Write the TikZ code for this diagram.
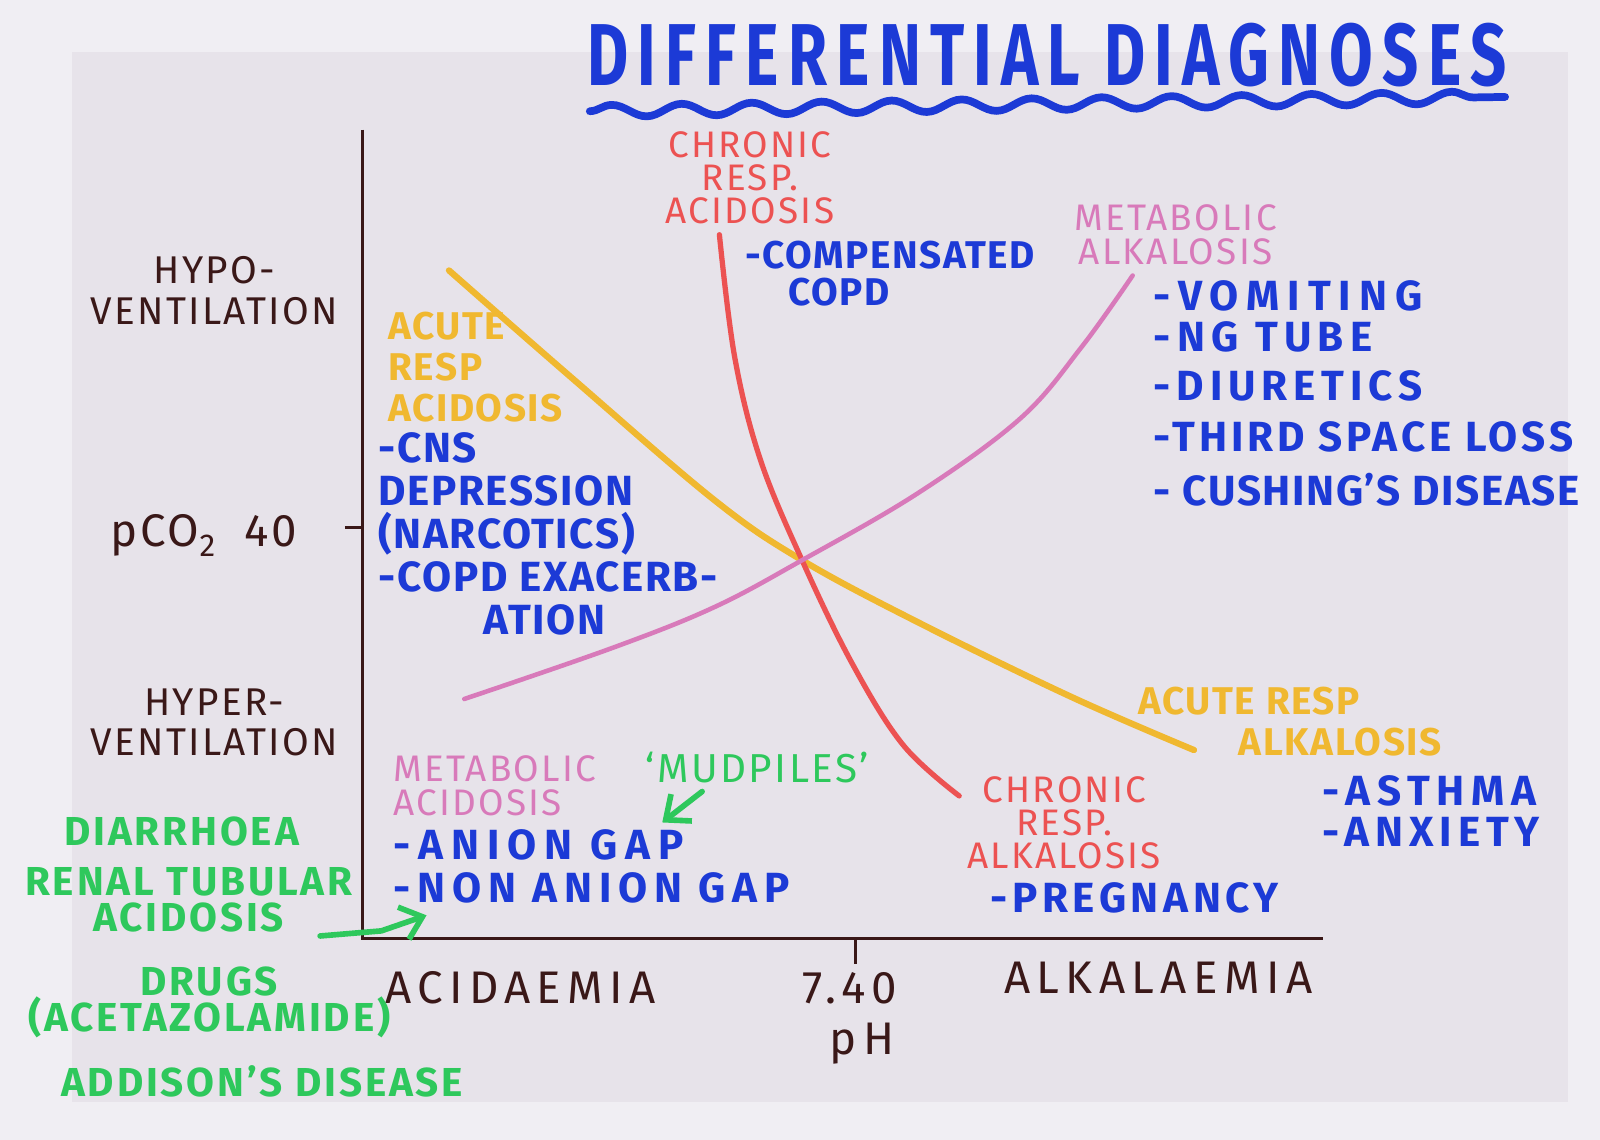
\documentclass[tikz,border=0pt]{standalone}
\usepackage{fontspec}
\setmainfont{Fira Sans}
\newfontfamily\titlefont{Fira Sans}[FakeStretch=0.72,LetterSpace=10.5]
\usetikzlibrary{positioning,arrows.meta,decorations.pathmorphing}
\definecolor{paper}{RGB}{231,227,234}
\definecolor{paperedge}{RGB}{240,238,243}
\definecolor{inkc}{RGB}{58,24,24}
\definecolor{penblue}{RGB}{28,58,214}
\definecolor{penred}{RGB}{236,82,82}
\definecolor{penyellow}{RGB}{240,184,48}
\definecolor{penpink}{RGB}{216,122,186}
\definecolor{pengreen}{RGB}{46,200,92}

\begin{document}
\begin{tikzpicture}[x=1.0204mm,y=-1.0204mm,>={Straight Barb[length=2mm,width=3.4mm]},
  axislbl/.style={text=inkc,font=\fontsize{11}{11.6}\selectfont\addfontfeature{LetterSpace=6},align=center,inner sep=0pt},
  phlbl/.style={text=inkc,font=\fontsize{13}{14}\selectfont\addfontfeature{LetterSpace=14},inner sep=0pt},
  bluenote/.style={text=penblue,font=\bfseries\fontsize{12}{12.2}\selectfont\addfontfeature{LetterSpace=4},align=left,anchor=west,inner sep=0pt},
  widenote/.style={bluenote,font=\bfseries\fontsize{12}{12.2}\selectfont\addfontfeature{LetterSpace=#1}},
  redlbl/.style={text=penred,font=\fontsize{10.5}{9.4}\selectfont\addfontfeature{LetterSpace=6},align=center,inner sep=0pt},
  yellbl/.style={text=penyellow,font=\bfseries\fontsize{11}{11.6}\selectfont\addfontfeature{LetterSpace=4},align=left,anchor=west,inner sep=0pt},
  pinklbl/.style={text=penpink,font=\fontsize{10.5}{9.6}\selectfont\addfontfeature{LetterSpace=6},align=center,inner sep=0pt},
  greennote/.style={text=pengreen,font=\bfseries\fontsize{11.5}{10.2}\selectfont\addfontfeature{LetterSpace=7},align=center,inner sep=0pt},
  axisline/.style={draw=inkc,line width=0.9pt},
  curve/.style={line width=1.5pt,line cap=round},
  garrow/.style={->,draw=pengreen,line width=1.6pt,line cap=round}]

  \fill[paperedge] (0,0) rectangle (156.8,111.7);
  \fill[paper] (7.05,5.1) rectangle (153.7,108);

  \node[text=penblue,font=\titlefont\bfseries\fontsize{25}{26}\selectfont,inner sep=0pt] (title) at (102.6,5.4) {DIFFERENTIAL DIAGNOSES};
  \coordinate (wavestart) at (57.8,10.9);
  \coordinate (waveend) at (147.5,9.5);
  \draw[penblue,line width=2.2pt,line cap=round,decorate,decoration={snake,amplitude=0.6mm,segment length=7mm}]
    (wavestart) -- (waveend);

  \coordinate (O) at (35.5,92);
  \coordinate (ytop) at (35.5,12.7);
  \coordinate (xend) at (129.7,92);
  \draw[axisline] (ytop) -- (O) -- (xend);
  \draw[axisline] (83.8,92) -- (83.8,94.5);
  \draw[axisline] (33.8,51.7) -- (35.5,51.7);

  \node[axislbl] (hypo) at (21,28.5) {HYPO-\\VENTILATION};
  \node[axislbl,font=\fontsize{13}{14}\selectfont\addfontfeature{LetterSpace=6}] (pco) at (20,52.5) {pCO\raisebox{-0.4ex}{\small 2}\ \ 40};
  \node[axislbl] (hyper) at (21,70.8) {HYPER-\\VENTILATION};
  \node[phlbl] (acid) at (51,96.8) {ACIDAEMIA};
  \node[phlbl] (seven) at (83.3,96.8) {7.40};
  \node[phlbl] (ph) at (84.5,102.3) {pH};
  \node[phlbl] (alk) at (113.5,95.8) {ALKALAEMIA};

  \draw[curve,penyellow,line width=1.8pt] plot[smooth,tension=0.6] coordinates
    {(44,26.5) (56,37) (70,49) (78.6,54.9) (90,61) (105,68.3) (117,73.5)};
  \draw[curve,penred] plot[smooth,tension=0.6] coordinates
    {(70.5,23) (72,35) (74.5,45) (78.6,54.9) (83.5,65) (88.5,73) (94,78)};
  \draw[curve,penpink,line width=1.3pt] plot[smooth,tension=0.6] coordinates
    {(45.5,68.5) (60,63.5) (70,59.5) (78.6,54.9) (90,48.3) (100,41) (106,34) (111,27)};

  \node[redlbl] (cra) at (73.5,17.4) {CHRONIC\\RESP.\\ACIDOSIS};
  \node[bluenote,font=\bfseries\fontsize{11}{10.5}\selectfont\addfontfeature{LetterSpace=4}] (copd) at (73,26.8) {-COMPENSATED\\\hspace*{1.1em}COPD};
  \node[pinklbl] (malk) at (115.2,23) {METABOLIC\\ALKALOSIS};
  \foreach \t/\y/\ls [count=\i] in {-VOMITING/29/19,-NG TUBE/33/15,-DIURETICS/37.8/14,-THIRD SPACE LOSS/42.8/9,- CUSHING'S DISEASE/48/4}
    \node[widenote=\ls] (malk\i) at (113,\y) {\t};

  \node[yellbl] (ara) at (38,36) {ACUTE\\RESP\\ACIDOSIS};
  \node[bluenote] (cns) at (37,52.3) {-CNS\\DEPRESSION\\(NARCOTICS)\\-COPD EXACERB-\\\hspace*{2.5em}ATION};

  \node[pinklbl,align=left,anchor=west] (macid) at (38.5,77) {METABOLIC\\ACIDOSIS};
  \node[greennote,font=\fontsize{11.5}{12}\selectfont\addfontfeature{LetterSpace=6}] (mud) at (74.2,75.2) {`MUDPILES'};
  \node[widenote=19] (agap) at (38.5,82.8) {-ANION GAP};
  \node[widenote=16] (nagap) at (38.5,87) {-NON ANION GAP};
  \coordinate (mudtip) at (64.9,80.6);
  \draw[garrow] ([xshift=-5.5mm,yshift=-0.8mm]mud.south) -- (mudtip);

  \node[greennote] (diar) at (17.8,81.5) {DIARRHOEA};
  \node[greennote] (rta) at (18.5,88.2) {RENAL TUBULAR\\ACIDOSIS};
  \node[greennote] (drugs) at (20.5,98.2) {DRUGS\\(ACETAZOLAMIDE)};
  \node[greennote] (addi) at (25.7,106) {ADDISON'S DISEASE};
  \coordinate (rtatip) at (41.8,89.7);
  \draw[garrow] ([xshift=-3.3mm,yshift=-0.3mm]rta.south east) -- ++(6,-0.5) -- (rtatip);

  \node[yellbl] (aral) at (111.5,70.7) {ACUTE RESP\\\hspace*{2.6em}ALKALOSIS};
  \node[redlbl] (cral) at (104.3,80.6) {CHRONIC\\RESP.\\ALKALOSIS};
  \node[widenote=11] (preg) at (97,88) {-PREGNANCY};
  \node[widenote=16] (asth) at (129.5,77.5) {-ASTHMA};
  \node[widenote=14] (anx) at (129.5,81.5) {-ANXIETY};
\end{tikzpicture}
\end{document}
